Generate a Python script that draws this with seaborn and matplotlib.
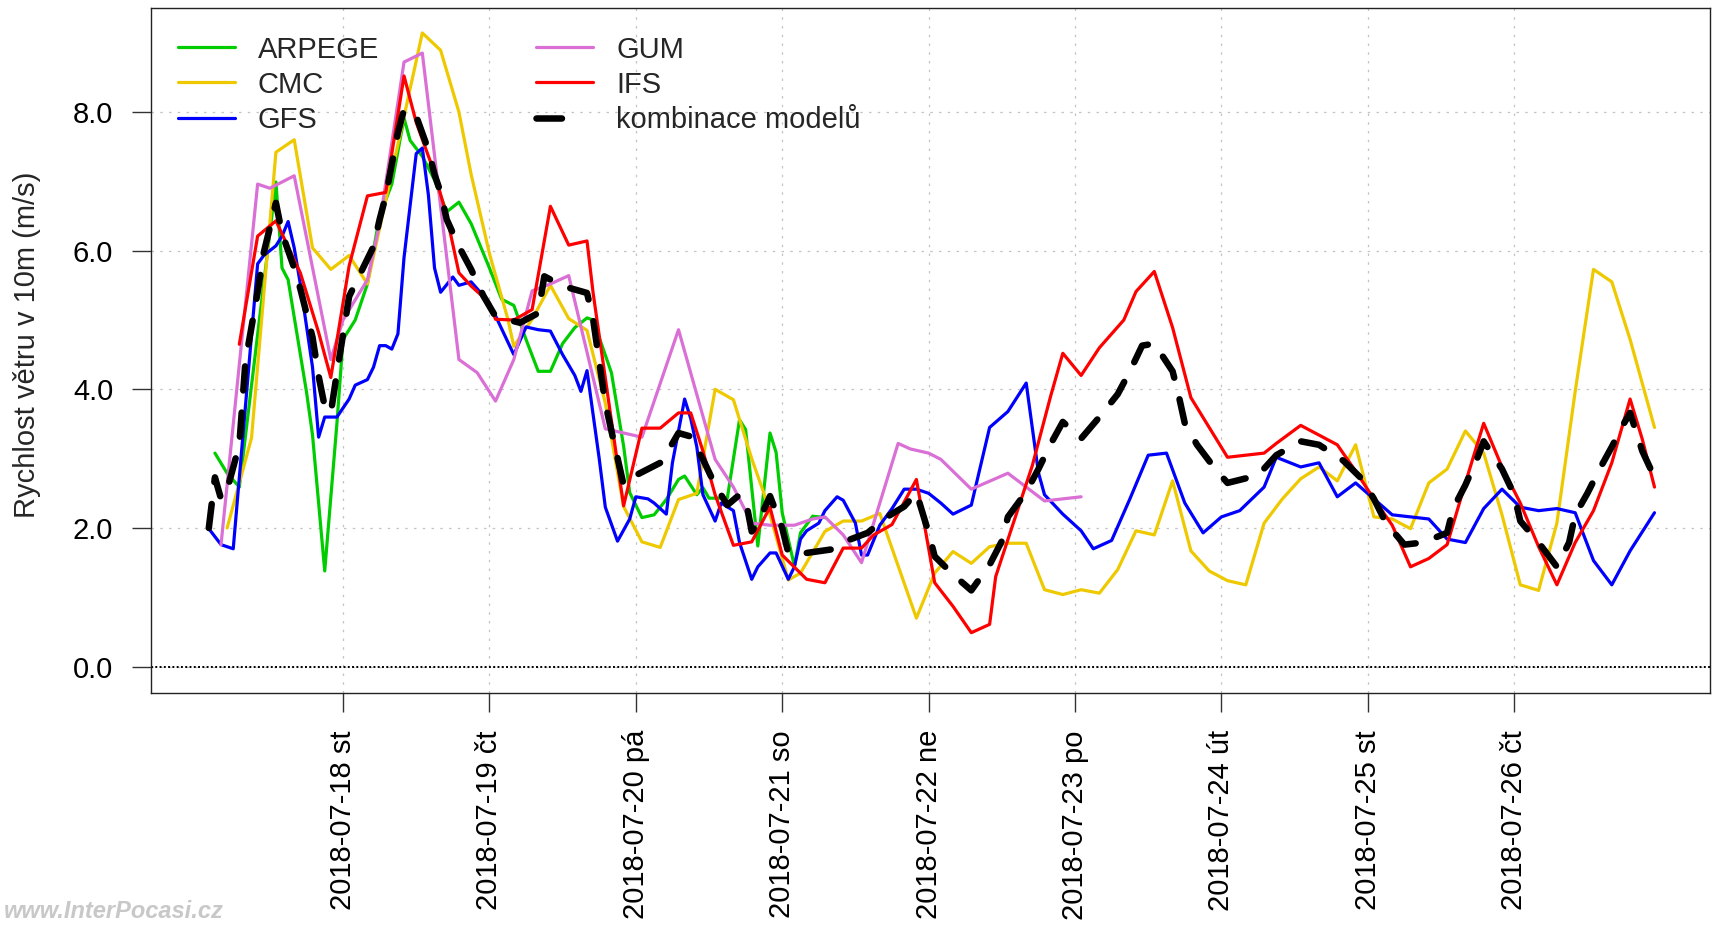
import matplotlib
matplotlib.use("Agg")
import matplotlib.pyplot as plt
from matplotlib.lines import Line2D
import pandas as pd
import seaborn as sns

# x values are hours after this moment (local time)
START = pd.Timestamp("2018-07-17 00:00")

arpege_h = [3, 5, 7, 13, 14, 15, 16, 18, 19, 21, 23, 24, 26, 28, 30, 32, 34, 35, 37, 39,
            41, 43, 45, 48, 50, 52, 54, 56, 58, 60, 62, 64, 65, 68, 70, 71, 73, 75, 77, 79,
            80, 82, 83, 84, 87, 89, 90, 92, 94, 95, 96, 98, 99, 101, 103]
arpege_v = [3.08, 2.79, 2.59, 6.99, 5.75, 5.58, 5.04, 3.97, 3.34, 1.38, 3.51, 4.72, 5.00, 5.52, 6.50, 6.96, 7.91, 7.59, 7.36, 7.02,
            6.56, 6.70, 6.39, 5.75, 5.30, 5.21, 4.72, 4.26, 4.26, 4.66, 4.89, 5.03, 5.00, 4.24, 3.18, 2.51, 2.15, 2.19, 2.41, 2.70,
            2.75, 2.48, 2.58, 2.43, 2.43, 3.56, 3.42, 1.74, 3.37, 3.09, 2.22, 1.45, 1.93, 2.17, 2.15]

cmc_h = [5, 9, 13, 16, 19, 22, 25, 28, 37, 40, 43, 45, 48, 51, 52, 55, 58, 61, 64, 67,
         70, 73, 76, 79, 82, 85, 88, 91, 93, 97, 99, 103, 106, 109, 112, 118, 121, 124, 127, 130,
         133, 136, 139, 142, 145, 148, 151, 154, 157, 160, 163, 166, 169, 172, 175, 178, 181, 184, 187, 190,
         193, 196, 199, 202, 205, 208, 211, 214, 217, 220, 223, 226, 229, 232, 235, 239]
cmc_v = [2.00, 3.30, 7.42, 7.60, 6.04, 5.73, 5.93, 5.52, 9.14, 8.89, 8.00, 7.10, 5.96, 5.02, 4.62, 5.01, 5.50, 5.02, 4.85, 3.80,
         2.31, 1.80, 1.72, 2.41, 2.50, 4.00, 3.85, 3.00, 2.50, 1.25, 1.35, 1.95, 2.10, 2.10, 2.21, 0.70, 1.35, 1.66, 1.49, 1.73,
         1.78, 1.78, 1.11, 1.04, 1.11, 1.06, 1.40, 1.96, 1.90, 2.68, 1.67, 1.38, 1.24, 1.18, 2.07, 2.42, 2.71, 2.88, 2.68, 3.20,
         2.16, 2.13, 1.99, 2.65, 2.85, 3.40, 3.08, 2.19, 1.18, 1.10, 2.07, 3.97, 5.73, 5.55, 4.72, 3.45]

gfs_h = [2, 4, 6, 10, 11, 13, 14, 15, 16, 17, 19, 20, 21, 23, 25, 26, 28, 29, 30, 31,
         32, 33, 34, 36, 37, 38, 39, 40, 42, 43, 45, 47, 49, 52, 54, 56, 58, 60, 62, 63,
         64, 66, 67, 69, 71, 72, 74, 75, 77, 78, 80, 81, 82, 83, 85, 86, 88, 89, 91, 92,
         94, 95, 97, 98, 99, 100, 102, 103, 105, 106, 108, 109, 110, 112, 114, 116, 118, 120, 122, 124,
         127, 130, 133, 136, 138, 139, 142, 145, 147, 150, 153, 156, 159, 162, 165, 168, 171, 175, 177, 179,
         181, 184, 187, 190, 196, 202, 205, 208, 211, 214, 217, 220, 223, 226, 229, 232, 235, 239]
gfs_v = [1.99, 1.76, 1.70, 5.81, 5.93, 6.07, 6.21, 6.42, 6.04, 5.52, 4.32, 3.31, 3.60, 3.60, 3.86, 4.06, 4.14, 4.32, 4.63, 4.63,
         4.58, 4.80, 5.90, 7.40, 7.48, 6.80, 5.75, 5.40, 5.62, 5.50, 5.55, 5.35, 5.06, 4.50, 4.90, 4.86, 4.84, 4.50, 4.20, 3.97,
         4.27, 3.00, 2.30, 1.81, 2.13, 2.45, 2.42, 2.36, 2.20, 2.94, 3.86, 3.58, 3.17, 2.48, 2.10, 2.36, 2.25, 1.79, 1.26, 1.44,
         1.64, 1.64, 1.26, 1.44, 1.84, 1.96, 2.07, 2.25, 2.45, 2.40, 2.07, 1.61, 1.61, 2.04, 2.28, 2.56, 2.56, 2.50, 2.36, 2.20,
         2.33, 3.45, 3.68, 4.09, 2.80, 2.48, 2.20, 1.96, 1.70, 1.82, 2.42, 3.05, 3.08, 2.36, 1.93, 2.16, 2.25, 2.59, 3.02, 2.95,
         2.88, 2.94, 2.45, 2.65, 2.19, 2.13, 1.84, 1.79, 2.28, 2.56, 2.30, 2.25, 2.28, 2.22, 1.53, 1.18, 1.67, 2.22]

gum_h = [4, 10, 12, 16, 22, 24, 26, 28, 30, 34, 37, 43, 46, 49, 52, 55, 58, 61, 67, 73,
         79, 85, 88, 91, 94, 98, 101, 103, 106, 109, 115, 117, 120, 122, 127, 133, 139, 145]
gum_v = [1.76, 6.96, 6.90, 7.08, 4.43, 5.00, 5.29, 5.58, 6.39, 8.72, 8.85, 4.43, 4.24, 3.83, 4.43, 5.42, 5.52, 5.64, 3.43, 3.31,
         4.86, 2.99, 2.59, 2.07, 2.04, 2.04, 2.13, 2.16, 1.90, 1.50, 3.22, 3.14, 3.08, 2.99, 2.56, 2.79, 2.39, 2.45]

ifs_h = [7, 10, 13, 17, 20, 22, 25, 28, 31, 34, 36, 39, 41, 43, 45, 48, 49, 52, 55, 58,
         61, 64, 65, 70, 73, 76, 79, 81, 83, 85, 88, 91, 94, 96, 100, 103, 106, 109, 111, 114,
         118, 121, 124, 127, 130, 131, 134, 137, 140, 142, 145, 148, 152, 154, 157, 160, 163, 166, 169, 172,
         175, 177, 181, 184, 187, 190, 193, 196, 199, 202, 205, 208, 211, 214, 217, 220, 223, 226, 229, 232,
         235, 237, 239]
ifs_v = [4.65, 6.21, 6.43, 5.68, 4.82, 4.17, 5.78, 6.79, 6.84, 8.52, 7.85, 7.12, 6.50, 5.68, 5.49, 5.25, 5.01, 5.00, 5.15, 6.64,
         6.08, 6.14, 5.39, 2.32, 3.44, 3.44, 3.66, 3.66, 3.11, 2.48, 1.75, 1.80, 2.30, 1.61, 1.26, 1.21, 1.71, 1.71, 1.90, 2.05,
         2.70, 1.21, 0.87, 0.49, 0.61, 1.30, 2.10, 2.90, 3.90, 4.52, 4.20, 4.60, 5.00, 5.41, 5.70, 4.89, 3.88, 3.45, 3.02, 3.05,
         3.08, 3.22, 3.48, 3.34, 3.20, 2.82, 2.42, 2.04, 1.44, 1.56, 1.76, 2.65, 3.51, 2.88, 2.36, 1.73, 1.18, 1.79, 2.25, 2.94,
         3.86, 3.28, 2.59]

# combination of all models
comb_h = [2, 3, 4, 5, 7, 8, 10, 11, 13, 14, 16, 17, 19, 20, 21, 22, 23, 25, 27, 29,
          30, 31, 33, 34, 36, 38, 39, 40, 41, 43, 45, 47, 49, 53, 56, 57, 60, 64, 65, 66,
          67, 68, 70, 72, 76, 78, 79, 81, 83, 85, 87, 89, 90, 91, 92, 94, 96, 97, 100, 104,
          107, 110, 113, 116, 118, 120, 121, 124, 127, 130, 132, 133, 136, 138, 140, 142, 145, 148, 151, 153,
          155, 157, 160, 161, 162, 164, 167, 169, 174, 177, 181, 184, 188, 191, 193, 195, 198, 201, 205, 206,
          208, 210, 211, 214, 216, 217, 220, 223, 225, 226, 228, 230, 232, 234, 235, 237, 239]
comb_v = [2.00, 2.73, 2.42, 2.55, 3.20, 4.40, 5.40, 5.97, 6.69, 6.25, 5.75, 5.45, 4.75, 4.19, 3.75, 3.66, 4.24, 5.34, 5.70, 6.06,
          6.45, 6.79, 7.70, 8.04, 7.94, 7.45, 7.10, 6.84, 6.45, 6.06, 5.73, 5.35, 5.05, 4.96, 5.10, 5.63, 5.49, 5.39, 5.01, 4.40,
          3.80, 3.40, 2.62, 2.76, 2.94, 3.22, 3.37, 3.32, 2.99, 2.62, 2.33, 2.48, 2.41, 1.95, 2.07, 2.46, 2.00, 1.64, 1.64, 1.69,
          1.83, 1.93, 2.15, 2.31, 2.51, 1.93, 1.59, 1.33, 1.10, 1.47, 1.81, 2.16, 2.52, 2.85, 3.21, 3.53, 3.29, 3.60, 3.93, 4.26,
          4.63, 4.66, 4.26, 3.91, 3.51, 3.20, 2.85, 2.65, 2.76, 3.05, 3.25, 3.20, 2.97, 2.71, 2.42, 2.07, 1.76, 1.79, 1.93, 2.28,
          2.62, 3.02, 3.25, 2.85, 2.48, 2.10, 1.79, 1.44, 1.79, 2.19, 2.50, 2.85, 3.17, 3.51, 3.66, 3.11, 2.73]

models = ["ARPEGE", "CMC", "GFS", "GUM", "IFS"]
model_hours = [arpege_h, cmc_h, gfs_h, gum_h, ifs_h]
model_values = [arpege_v, cmc_v, gfs_v, gum_v, ifs_v]
colors = {"ARPEGE": "#00CD00", "CMC": "#EEC900", "GFS": "#0000FF",
          "GUM": "#DA70D6", "IFS": "#FF0000"}
combined_label = "kombinace modelů"

day_ticks = pd.date_range("2018-07-18", "2018-07-26", freq="D")
day_labels = ["2018-07-18 st", "2018-07-19 čt", "2018-07-20 pá", "2018-07-21 so",
              "2018-07-22 ne", "2018-07-23 po", "2018-07-24 út", "2018-07-25 st",
              "2018-07-26 čt"]
y_ticks = [0, 2, 4, 6, 8]

sns.set_theme(style="white")
plt.rcParams["font.family"] = ["Liberation Sans", "DejaVu Sans"]
FS = 21

fig = plt.figure(figsize=(17.12, 9.25), dpi=100)
ax = fig.add_axes([151 / 1712, 232 / 925, 1559 / 1712, 685 / 925])

frames = []
for name, hrs, vals in zip(models, model_hours, model_values):
    frames.append(pd.DataFrame({
        "time": START + pd.to_timedelta(hrs, unit="h"),
        "speed": vals,
        "model": name,
    }))
df = pd.concat(frames, ignore_index=True)

sns.lineplot(data=df, x="time", y="speed", hue="model", hue_order=models,
             palette=colors, estimator=None, linewidth=2.3, legend=False,
             ax=ax, zorder=3)

comb = pd.DataFrame({"time": START + pd.to_timedelta(comb_h, unit="h"),
                     "speed": comb_v})
sns.lineplot(data=comb, x="time", y="speed", color="black", linewidth=4.7,
             linestyle=(0, (3.7, 3.4)), dash_capstyle="round",
             estimator=None, legend=False, ax=ax, zorder=4)

# grid and zero line
ax.grid(True, color="#C4C4C4", linestyle=(0, (2, 5)), linewidth=0.9)
ax.set_axisbelow(True)
ax.axhline(0, color="black", linewidth=1.4, linestyle=(0, (1, 1.2)), zorder=2)

ax.set_xlim(START + pd.Timedelta(hours=-7.48), START + pd.Timedelta(hours=248.1))
ax.set_ylim(-0.38, 9.5)
ax.set_xticks(day_ticks)
ax.set_xticklabels(day_labels, rotation=90, fontsize=FS)
ax.set_yticks(y_ticks)
ax.set_yticklabels([f"{t:.1f}" for t in y_ticks], fontsize=FS)
ax.tick_params(axis="both", direction="out", length=13.7, width=1.0,
               color="#333333", labelcolor="black", bottom=True, left=True)
ax.tick_params(axis="x", pad=13)
ax.tick_params(axis="y", pad=13.5)
for sp in ax.spines.values():
    sp.set_visible(True)
    sp.set_color("#222222")
    sp.set_linewidth(1.0)

ax.set_xlabel("")
ax.set_ylabel("Rychlost větru v 10m (m/s)", fontsize=FS, va="center")
ax.yaxis.set_label_coords((27 - 151) / 1559, 0.5088)

handles = [Line2D([], [], color=colors[m], linewidth=2.3) for m in models]
handles.append(Line2D([], [], color="black", linewidth=4.7,
                      linestyle=(0, (3.9, 20)), dash_capstyle="round"))
labels = models + [combined_label]
ax.legend(handles, labels, ncol=2, loc="upper left",
          bbox_to_anchor=((178 - 151) / 1559, (693 - 35.5) / 685),
          frameon=False, fontsize=FS, handlelength=1.95, handletextpad=0.79,
          columnspacing=5.38, labelspacing=0.245, borderaxespad=0, borderpad=0)

fig.text(0.002, 2 / 925, "www.InterPocasi.cz", color="#C8C8C8", fontsize=17,
         style="italic", fontweight="bold", ha="left", va="bottom")

fig.savefig("out.png", dpi=100)
